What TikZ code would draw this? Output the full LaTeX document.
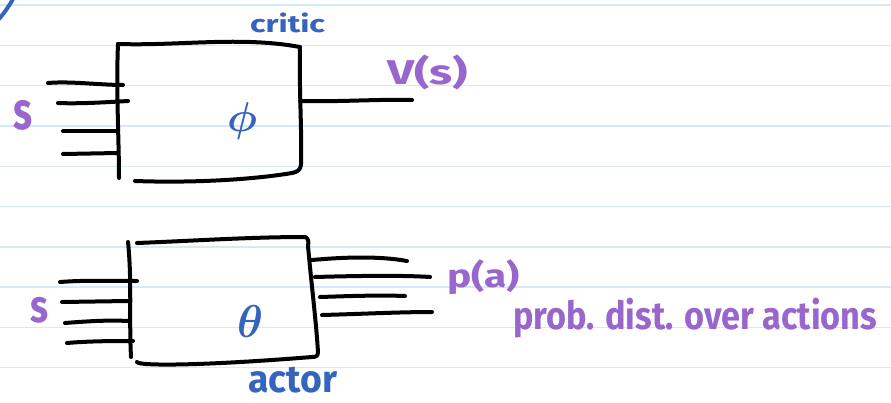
\documentclass[tikz,border=0pt]{standalone}
\usepackage{fontspec}
\setmainfont{Fira Sans}
\usepackage{graphicx}
\usepackage{bm}
\definecolor{purplepen}{RGB}{152,102,204}
\definecolor{bluepen}{RGB}{52,100,188}
\definecolor{ruled}{RGB}{212,234,248}
\tikzset{
  ink/.style={line width=4pt, line cap=round, line join=round, black},
  rule/.style={line width=1.4pt, ruled},
  lbl/.style={anchor=north west, inner sep=0pt, outer sep=0pt, font=\bfseries},
}
\newcommand{\hw}[3]{\resizebox*{#1pt}{#2pt}{#3}}
\begin{document}
\begin{tikzpicture}[x=1pt,y=-1pt]
\useasboundingbox (0,0) rectangle (891,402);
\fill[white] (0,0) rectangle (891,402);
\clip (0,0) rectangle (891,402);
% ruled paper
\foreach \k in {0,...,9} {\draw[rule] (0,{5+40.3*\k}) -- (891,{5+40.3*\k});}
% blue stroke at the corner
\draw[line width=4pt, bluepen, line cap=round] (-1,19) .. controls (5,12) and (9,6) .. (13,-1);

% ---------------- critic ----------------
\coordinate (cTL) at (118,44);
\coordinate (cTR) at (300,47);
\coordinate (cRB) at (301,164);
\coordinate (cBR) at (292,173);
\coordinate (cBL) at (135,181);
\coordinate (cLB) at (119,178);
\draw[ink] (cTL) .. controls (180,46) and (240,36) .. (cTR);
\draw[ink] (cTL) .. controls (116,90) and (119,140) .. (cLB);
\draw[ink] (cTR) .. controls (299,90) and (302,130) .. (cRB) .. controls (301,170) and (297,172) .. (cBR);
\draw[ink] (cBL) .. controls (190,183) and (250,180) .. (cBR);
% inputs
\coordinate (ci1a) at (48,83);  \coordinate (ci1b) at (123,85);
\coordinate (ci2a) at (58,103); \coordinate (ci2b) at (128,101);
\coordinate (ci3a) at (63,131); \coordinate (ci3b) at (118,131);
\coordinate (ci4a) at (63,154); \coordinate (ci4b) at (118,153);
\draw[ink] (ci1a) .. controls (70,81) and (100,85) .. (ci1b);
\draw[ink] (ci2a) .. controls (80,104) and (110,102) .. (ci2b);
\draw[ink] (ci3a) -- (ci3b);
\draw[ink] (ci4a) -- (ci4b);
% output
\coordinate (coa) at (300,101); \coordinate (cob) at (412,100);
\draw[ink] (coa) .. controls (340,102) and (380,99) .. (cob);
% labels
\node[lbl, text=bluepen] (critic) at (250,13) {\hw{75}{20}{critic}};
\node[lbl, text=purplepen] (vs) at (387,55) {\hw{81}{35}{V(s)}};
\node[lbl, text=purplepen] (s1) at (13,100) {\hw{19}{30}{s}};
\node[lbl, text=bluepen] (phi) at (227,103) {\hw{30}{37}{$\bm{\phi}$}};

% ---------------- actor ----------------
\coordinate (aTL) at (137,243);
\coordinate (aTR) at (305,237);
\coordinate (aRT) at (308,246);
\coordinate (aRB) at (318,352);
\coordinate (aBR) at (312,357);
\coordinate (aBL) at (137,362);
\coordinate (aLT) at (128,242);
\coordinate (aLB) at (131,357);
\draw[ink] (aTL) .. controls (190,241) and (250,237) .. (aTR) .. controls (308,238) and (309,241) .. (aRT);
\draw[ink] (aLT) .. controls (132,280) and (129,320) .. (aLB);
\draw[ink] (aRT) .. controls (312,290) and (316,320) .. (aRB) .. controls (318,356) and (316,357) .. (aBR);
\draw[ink] (aBL) .. controls (138,366) and (200,366) .. (aBR);
% inputs
\coordinate (ai1a) at (60,282); \coordinate (ai1b) at (137,281);
\coordinate (ai2a) at (62,302); \coordinate (ai2b) at (128,301);
\coordinate (ai3a) at (65,323); \coordinate (ai3b) at (128,321);
\coordinate (ai4a) at (67,343); \coordinate (ai4b) at (133,341);
\draw[ink] (ai1a) .. controls (85,280) and (115,281) .. (ai1b);
\draw[ink] (ai2a) -- (ai2b);
\draw[ink] (ai3a) .. controls (90,321) and (110,320) .. (ai3b);
\draw[ink] (ai4a) .. controls (90,341) and (115,341) .. (ai4b);
% outputs
\coordinate (ao1a) at (312,260); \coordinate (ao1b) at (407,261);
\coordinate (ao2a) at (315,277); \coordinate (ao2b) at (430,277);
\coordinate (ao3a) at (320,297); \coordinate (ao3b) at (405,296);
\coordinate (ao4a) at (322,315); \coordinate (ao4b) at (432,312);
\draw[ink] (ao1a) .. controls (345,257) and (380,256) .. (ao1b);
\draw[ink] (ao2a) .. controls (350,276) and (400,275) .. (ao2b);
\draw[ink] (ao3a) .. controls (350,296) and (380,295) .. (ao3b);
\draw[ink] (ao4a) .. controls (360,314) and (400,312) .. (ao4b);
% labels
\node[lbl, text=purplepen] (s2) at (30,297) {\hw{18}{26}{s}};
\node[lbl, text=bluepen] (theta) at (237,305) {\hw{26}{32}{$\bm{\theta}$}};
\node[lbl, text=bluepen] (actor) at (248,367) {\hw{89}{26}{actor}};
\node[lbl, text=purplepen] (pa) at (447,260) {\hw{73}{35}{p(a)}};
\node[lbl, text=purplepen] (dist) at (513,298) {\hw{364}{40}{prob. dist. over actions}};
\end{tikzpicture}
\end{document}
